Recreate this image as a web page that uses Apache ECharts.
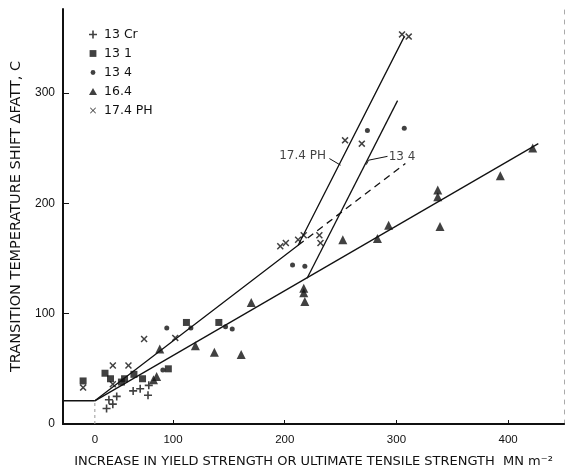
<!DOCTYPE html>
<html>
<head>
<meta charset="utf-8">
<script src="https://cdn.jsdelivr.net/npm/echarts@6/dist/echarts.min.js"></script>
<style>
  html, body { margin: 0; padding: 0; background: #fff; }
  #chart { width: 566px; height: 473px; }
</style>
</head>
<body>
<div id="chart"></div>
<script>
// Transition temperature shift against strength increase, by steel grade.
// Points are [strength increase (MN m^-2), shift (C)].
const cr13 = [[15, 14], [23, 18], [18, 22], [28, 25], [49, 30], [58, 32], [69, 35], [68, 26]];
const s131 = [[-15, 39], [13, 46], [20, 41], [34, 38], [38, 41], [50, 45], [61, 41], [94, 50], [112, 92], [141, 92]];
const s134 = [[87, 49], [92, 87], [116, 87], [147, 88], [153, 86], [207, 144], [218, 143], [274, 266], [307, 268]];
const s164 = [[75, 40], [79, 43], [83, 68], [120, 71], [137, 65], [161, 63], [170, 110], [217, 123], [217, 119],
              [218, 111], [252, 167], [283, 168], [293, 180], [337, 212], [337, 206], [339, 179], [393, 225], [422, 250]];
const ph174 = [[-15, 33], [23, 36], [23, 53], [43, 53], [63, 77], [102, 78], [196, 161], [201, 164], [212, 167],
               [217, 171], [231, 171], [232, 164], [254, 257], [269, 254], [305, 353], [311, 351]];

// Fitted trend lines
const fit174 = [[0, 21], [212, 162], [307, 351]];
const fit174Ext = [[212, 162], [308, 236]];
const fit164 = [[0, 21], [427, 254]];
const fit134 = [[220, 132], [301, 293]];
const baseline = [[-41, 21], [0, 21]];
const zeroGuide = [[0, 0], [0, 21]];

const seriesNames = ['13 Cr', '13 1', '13 4', '16.4', '17.4 PH'];
const curveNames = ['17.4 PH', '13 4'];
const xTicks = [0, 100, 200, 300, 400];
const yTicks = [0, 100, 200, 300];

// The strength scale is compressed between 0 and 100.
function xPos(v) { return v >= 100 ? v : 30 + 0.7 * v; }
function xVal(p) { return p >= 100 ? p : (p - 30) / 0.7; }
const place = pts => pts.map(([x, y]) => [xPos(x), y]);

const FONT = 'Liberation Sans, Arial, sans-serif';
const WIDE = 'DejaVu Sans, sans-serif';
const INK = '#111';

const plusPath = 'path://M4,0H6V4H10V6H6V10H4V6H0V4H4Z';
const crossPath = 'path://M1.5,0L5,3.5L8.5,0L10,1.5L6.5,5L10,8.5L8.5,10L5,6.5L1.5,10L0,8.5L3.5,5L0,1.5Z';

// legend icons sit inside a 10x10 frame so their sizes differ like the markers
const legendIcons = [
  'path://M0,0M10,10M4.2,1H5.8V4.2H9V5.8H5.8V9H4.2V5.8H1V4.2H4.2Z',
  'path://M0,0M10,10M1.6,1.6H8.4V8.4H1.6Z',
  'path://M0,0M10,10M7.4,5A2.4,2.4,0,1,1,2.6,5A2.4,2.4,0,1,1,7.4,5Z',
  'path://M0,0M10,10M5,1.4L9,8.6H1Z',
  'path://M0,0M10,10M2.6,2L5,4.4L7.4,2L8,2.6L5.6,5L8,7.4L7.4,8L5,5.6L2.6,8L2,7.4L4.4,5L2,2.6Z'
];

function pointSeries(name, data, symbol, size) {
  return {
    type: 'scatter', name, data: place(data), symbol, symbolSize: size,
    itemStyle: { color: INK }, z: 5, silent: true
  };
}
function lineSeries(data, opts = {}) {
  return {
    type: 'line', data: place(data), symbol: 'none', silent: true, z: 3,
    lineStyle: Object.assign({ color: INK, width: 1.3 }, opts)
  };
}

const X_MIN = 1.5, X_MAX = 450, Y_MAX = 376;

const option = {
  animation: false,
  backgroundColor: '#fff',
  grid: { left: 63, right: 2, top: 9, bottom: 49 },
  legend: {
    orient: 'vertical', left: 83, top: 23, itemWidth: 10, itemHeight: 10, itemGap: 6,
    selectedMode: false,
    textStyle: { fontFamily: WIDE, fontSize: 12.5, color: INK, padding: [0, 0, 0, 1] },
    data: seriesNames.map((n, i) => ({ name: n, icon: legendIcons[i] }))
  },
  xAxis: [{
    type: 'value', min: X_MIN, max: X_MAX, position: 'bottom',
    name: 'INCREASE IN YIELD STRENGTH OR ULTIMATE TENSILE STRENGTH  MN m\u207B\u00B2',
    nameLocation: 'middle', nameGap: 31,
    nameTextStyle: { fontFamily: WIDE, fontSize: 13, color: INK },
    axisLine: { lineStyle: { color: INK, width: 2 } },
    axisTick: { show: true, inside: true, length: 4, customValues: xTicks.slice(1).map(xPos), lineStyle: { color: INK } },
    axisLabel: {
      customValues: xTicks.map(xPos), formatter: v => String(Math.round(xVal(v))),
      fontFamily: FONT, fontSize: 11.5, color: INK, margin: 10
    },
    splitLine: { show: false }
  }, {
    type: 'value', min: X_MIN, max: X_MAX, position: 'top',
    axisLine: { lineStyle: { color: INK, width: 1.5 } },
    axisTick: { show: false }, axisLabel: { show: false }, splitLine: { show: false }
  }],
  yAxis: [{
    type: 'value', min: 0, max: Y_MAX, interval: 100,
    name: 'TRANSITION TEMPERATURE SHIFT \u0394FATT, C',
    nameLocation: 'middle', nameGap: 35,
    nameTextStyle: { fontFamily: WIDE, fontSize: 14.5, color: INK },
    axisLine: { lineStyle: { color: INK, width: 2 } },
    axisTick: { show: true, inside: true, length: 6, customValues: yTicks.slice(1), lineStyle: { color: INK } },
    axisLabel: { customValues: yTicks, fontFamily: FONT, fontSize: 12, color: INK, margin: 8 },
    splitLine: { show: false }
  }, {
    type: 'value', min: 0, max: Y_MAX, position: 'right',
    axisLine: { lineStyle: { color: '#aaa', width: 1, type: [4, 6] } },
    axisTick: { show: false }, axisLabel: { show: false }, splitLine: { show: false }
  }],
  series: [
    lineSeries(baseline, { width: 1.5 }),
    lineSeries(zeroGuide, { color: '#999', width: 1, type: [3, 3] }),
    lineSeries(fit174),
    lineSeries(fit174Ext, { type: [7, 5] }),
    lineSeries(fit164),
    lineSeries(fit134),
    // leaders from the curve names to their lines
    lineSeries([[240, 240.5], [250, 234.5]], { width: 1 }),
    lineSeries([[292, 242.5], [275, 239], [273, 235]], { width: 1 }),
    {
      type: 'scatter', silent: true, symbolSize: 0, z: 6,
      data: place([[216, 243], [305, 242]]).map((p, i) => ({ value: p, name: curveNames[i] })),
      label: {
        show: true, position: 'inside', formatter: '{b}',
        fontFamily: WIDE, fontSize: 12, color: INK
      }
    },
    pointSeries('13 Cr', cr13, plusPath, 8),
    pointSeries('13 1', s131, 'rect', 7),
    pointSeries('13 4', s134, 'circle', 5),
    pointSeries('16.4', s164, 'triangle', 9),
    pointSeries('17.4 PH', ph174, crossPath, 7)
  ]
};

echarts.init(document.getElementById('chart'), null, { renderer: 'canvas' }).setOption(option);
</script>
</body>
</html>
